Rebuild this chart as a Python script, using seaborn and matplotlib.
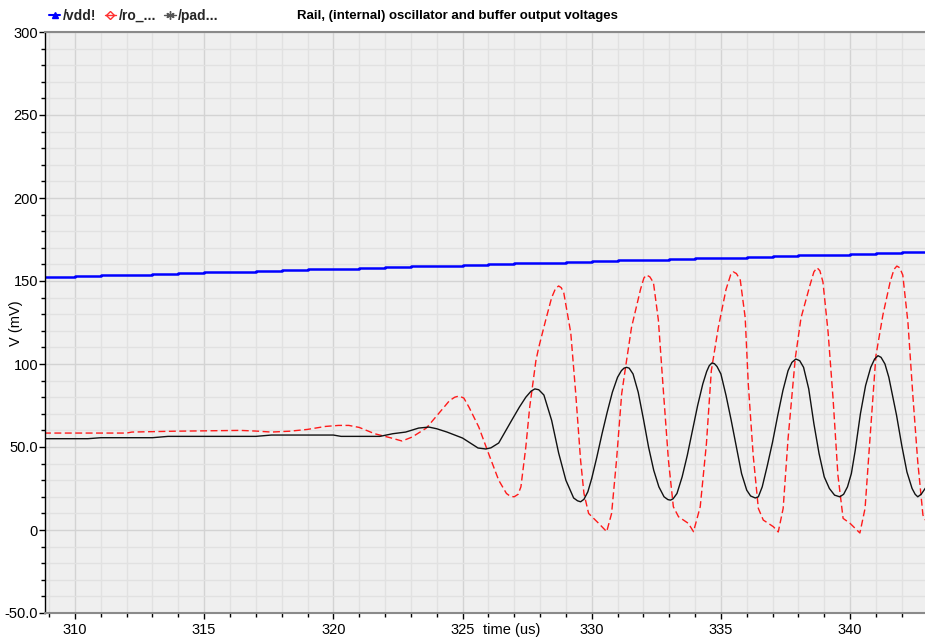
import matplotlib
matplotlib.use("Agg")
import matplotlib.pyplot as plt
import seaborn as sns
from matplotlib.lines import Line2D
from matplotlib.ticker import FixedLocator, FixedFormatter, MultipleLocator

# ---------------- data ----------------
series_names = ["/vdd!", "/ro_...", "/pad..."]
title_text = "Rail, (internal) oscillator and buffer output voltages"

vdd_t = [308.8, 310, 311, 312, 313, 314, 315, 316, 317, 318, 319, 320, 321, 322,
         323, 324, 325, 326, 327, 328, 329, 330, 331, 332, 333, 334, 335, 336,
         337, 338, 339, 340, 341, 342, 343]
vdd_v = [152.6, 153.0, 153.5, 153.9, 154.4, 154.8, 155.3, 155.7, 156.1, 156.6,
         157.0, 157.5, 157.9, 158.4, 158.8, 159.3, 159.7, 160.1, 160.6, 161.0,
         161.5, 161.9, 162.4, 162.8, 163.3, 163.7, 164.1, 164.6, 165.0, 165.5,
         165.9, 166.4, 166.8, 167.3, 167.7]

ro_t = [308.8, 312.0, 312.2, 313.8, 316.4, 317.0, 317.6, 318.3, 319.0, 319.7,
        320.2, 320.6, 321.0, 321.6, 322.2, 322.66, 323.05, 323.6, 324.1, 324.5,
        324.7, 324.86, 325.05, 325.25, 325.63, 326.0, 326.4, 326.7, 326.85,
        327.0, 327.15, 327.26, 327.45, 327.6, 327.84, 327.95, 328.22, 328.45,
        328.6, 328.72, 328.82, 328.92, 329.19, 329.38, 329.57, 329.7, 329.88,
        330.27, 330.58, 330.77, 330.96, 331.16, 331.31, 331.54, 331.89, 332.02,
        332.12, 332.25, 332.39, 332.58, 332.78, 332.97, 333.16, 333.36, 333.74,
        333.94, 334.2, 334.44, 334.63, 334.9, 335.2, 335.38, 335.48, 335.6,
        335.75, 335.94, 336.06, 336.25, 336.45, 336.64, 337.03, 337.22, 337.41,
        337.6, 337.88, 338.1, 338.45, 338.6, 338.72, 338.83, 338.95, 339.15,
        339.34, 339.53, 339.73, 340.0, 340.38, 340.58, 340.77, 341.0, 341.27,
        341.55, 341.7, 341.81, 341.92, 342.04, 342.24, 342.43, 342.62, 342.82,
        342.95]
ro_v = [58.4, 58.4, 59.0, 59.5, 60.0, 59.6, 59.0, 59.5, 60.6, 62.4,
        63.0, 63.0, 61.8, 58.0, 55.6, 53.6, 56.0, 61.4, 70.6, 78.0,
        80.0, 80.7, 79.5, 74.0, 62.0, 46.4, 30.0, 22.0, 20.3,
        20.0, 21.5, 26.0, 50.0, 74.0, 102.0, 110.0, 126.5, 140.0,
        145.5, 147.0, 146.0, 142.8, 118.7, 82.5, 42.0, 22.0, 10.0,
        4.0, -1.0, 10.0, 42.0, 82.0, 98.0, 122.0, 145.0, 151.8,
        153.6, 152.5, 149.0, 126.5, 82.5, 42.0, 14.0, 8.0, 4.0,
        -1.0, 14.0, 52.0, 96.0, 122.0, 145.0, 153.8, 155.5, 154.5,
        150.6, 128.0, 88.0, 45.0, 13.0, 6.0, 2.0, -1.2, 13.0,
        55.0, 103.6, 127.7, 147.6, 155.5, 158.0, 156.2, 149.4, 119.0,
        79.5, 33.0, 7.0, 4.0, -1.8, 13.0, 55.0, 105.0, 129.5,
        149.4, 157.0, 159.0, 158.0, 153.6, 125.0, 81.0, 41.0, 9.0,
        5.0]

pad_t = [308.8, 310.5, 311.0, 313.0, 313.6, 317.0, 317.6, 320.0, 320.3, 321.8,
         322.3, 322.8, 323.3, 323.7, 324.0, 324.4, 325.0, 325.6, 325.9, 326.1,
         326.4, 326.9, 327.2, 327.45, 327.65, 327.8, 327.95, 328.15, 328.45,
         328.72, 329.0, 329.3, 329.45, 329.57, 329.7, 329.85, 330.0, 330.2,
         330.4, 330.6, 330.8, 331.0, 331.15, 331.25, 331.35, 331.45, 331.6,
         331.8, 332.0, 332.2, 332.4, 332.6, 332.8, 332.95, 333.05, 333.15, 333.3,
         333.5, 333.7, 333.9, 334.1, 334.3, 334.45, 334.55, 334.65, 334.75,
         334.85, 335.0, 335.2, 335.4, 335.6, 335.8, 336.0, 336.15, 336.33,
         336.45, 336.6, 336.8, 337.0, 337.2, 337.4, 337.6, 337.75, 337.9, 338.05,
         338.2, 338.4, 338.6, 338.8, 339.0, 339.2, 339.4, 339.6, 339.75, 339.9,
         340.05, 340.2, 340.4, 340.6, 340.8, 340.95, 341.08, 341.2, 341.35,
         341.5, 341.8, 342.0, 342.2, 342.4, 342.52, 342.62, 342.75, 342.95]
pad_v = [55.0, 55.0, 55.6, 55.6, 56.4, 56.4, 57.2, 57.2, 56.4, 56.4,
         58.0, 59.0, 61.4, 62.0, 61.0, 59.0, 55.4, 49.4, 48.8, 49.5,
         52.4, 66.0, 74.0, 80.0, 83.6, 85.0, 84.5, 81.3, 66.0,
         46.4, 30.0, 19.3, 17.6, 17.0, 18.5, 23.0, 31.0, 44.0,
         58.0, 71.0, 83.0, 92.0, 96.0, 97.5, 98.0, 97.5, 94.0,
         83.0, 67.0, 50.0, 36.0, 26.0, 20.0, 18.3, 18.0, 18.8, 22.0,
         32.0, 45.0, 60.0, 75.0, 88.0, 95.5, 99.0, 100.6, 100.2,
         98.5, 94.0, 81.0, 66.0, 50.0, 34.0, 24.0, 20.5, 19.3,
         20.0, 26.0, 39.0, 53.0, 69.0, 84.0, 96.0, 101.0, 103.0, 102.0,
         98.0, 85.0, 64.0, 46.0, 32.0, 25.0, 21.0, 20.0, 21.5, 26.0,
         34.0, 48.0, 70.0, 87.0, 98.0, 103.0, 105.0, 104.0, 100.0,
         92.0, 69.0, 51.0, 35.0, 25.0, 21.5, 20.0, 21.5, 26.0]

x_ticks = [310, 315, 320, 325, 330, 335, 340]
x_tick_labels = ["310", "315", "320", "325", "330", "335", "340"]
y_ticks = [-50, 0, 50, 100, 150, 200, 250, 300]
y_tick_labels = ["-50.0", "0", "50.0", "100", "150", "200", "250", "300"]

# ---------------- style ----------------
sns.set_theme(style="white")
plt.rcParams['font.family'] = ['Liberation Sans', 'DejaVu Sans']

W, H = 925, 639
fig = plt.figure(figsize=(W / 100, H / 100), dpi=100)
fig.patch.set_facecolor('white')
ax = fig.add_axes([45 / W, 26 / H, 880 / W, 581 / H])
ax.set_facecolor('#efefef')

sns.lineplot(x=vdd_t, y=vdd_v, ax=ax, color='#0000ff', lw=1.8,
             drawstyle='steps-post', estimator=None, sort=False)
sns.lineplot(x=ro_t, y=ro_v, ax=ax, color='#ff1a1a', lw=1.0,
             linestyle=(0, (5, 2.5)), estimator=None, sort=False)
sns.lineplot(x=pad_t, y=pad_v, ax=ax, color='#111111', lw=1.0,
             estimator=None, sort=False)

ax.set_xlim(308.84, 342.9)
ax.set_ylim(-50, 300)

ax.xaxis.set_major_locator(FixedLocator(x_ticks))
ax.xaxis.set_major_formatter(FixedFormatter(x_tick_labels))
ax.xaxis.set_minor_locator(MultipleLocator(1))
ax.yaxis.set_major_locator(FixedLocator(y_ticks))
ax.yaxis.set_major_formatter(FixedFormatter(y_tick_labels))
ax.yaxis.set_minor_locator(MultipleLocator(10))

ax.set_axisbelow(True)
ax.grid(which='major', color='#d3d3d3', lw=1.0)
ax.grid(which='minor', color='#e1e1e1', lw=1.0)

ax.tick_params(axis='both', which='both', direction='out', color='black',
               labelsize=10.5, labelcolor='black', bottom=True, left=True)
ax.tick_params(axis='y', which='major', length=4, width=1, pad=1)
ax.tick_params(axis='y', which='minor', length=3, width=1)
ax.tick_params(axis='x', which='major', length=4, width=1, pad=3)
ax.tick_params(axis='x', which='minor', length=3, width=1)

ax.spines['right'].set_visible(False)
ax.spines['left'].set_color('black')
ax.spines['left'].set_linewidth(1.0)
ax.spines['top'].set_color('#8a8a8a')
ax.spines['top'].set_linewidth(1.5)
ax.spines['bottom'].set_color('#8a8a8a')
ax.spines['bottom'].set_linewidth(1.5)

ax.set_xlabel('time (us)', fontsize=10.5, color='black')
ax.xaxis.set_label_coords((512 - 45) / 880, -(630 - 613) / 581)
ax.xaxis.label.set_va('center')
ax.set_ylabel('V (mV)', fontsize=10.5, color='black')
ax.yaxis.set_label_coords((16 - 45) / 880, (613 - 323) / 581)
ax.yaxis.label.set_va('center')

fig.text(457 / W, 1 - 16 / H, title_text, ha='center', va='center',
         fontsize=9.5, fontweight='bold', color='black')

handles = [
    Line2D([], [], color='#0000ff', lw=1.5, marker='^', markersize=5),
    Line2D([], [], color='#ff3030', lw=1.0, marker='D', markersize=4,
           markerfacecolor='none'),
    Line2D([], [], color='#555555', lw=1.0, marker=(6, 2, 0), markersize=6),
]
fig.legend(handles, series_names, loc='center left',
           bbox_to_anchor=(49 / W, 1 - 16 / H), ncol=3, frameon=False,
           handlelength=0.8, handletextpad=0.2, columnspacing=0.6,
           borderaxespad=0, borderpad=0,
           prop={'weight': 'bold', 'size': 10})

fig.savefig('out.png', dpi=100)
